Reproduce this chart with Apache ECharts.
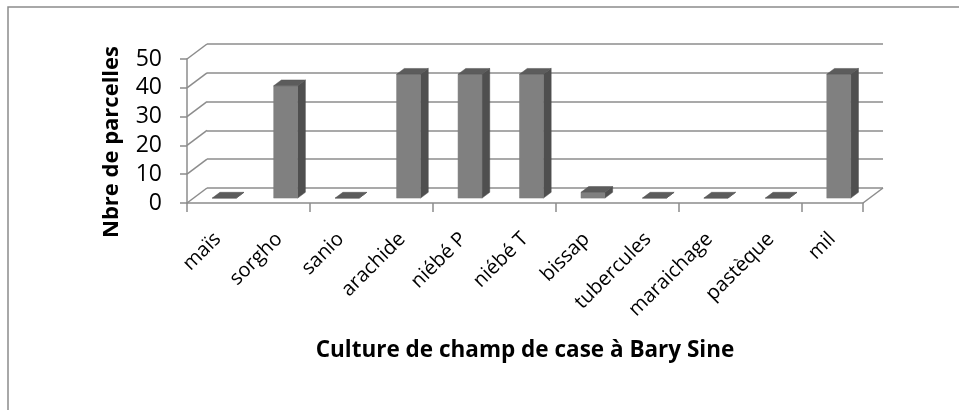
<!DOCTYPE html>
<html>
<head>
<meta charset="utf-8">
<script src="https://cdn.jsdelivr.net/npm/echarts@6/dist/echarts.min.js"></script>
<style>
html,body{margin:0;padding:0;background:#fff;}
#c{width:959px;height:410px;}
</style>
</head>
<body>
<div id="c"></div>
<script>
const categories = ['maïs','sorgho','sanio','arachide','niébé P','niébé T','bissap','tubercules','maraichage','pastèque','mil'];
const values = [0, 39, 0, 43, 43, 43, 2, 0, 0, 0, 43];
const yTicks = [0, 10, 20, 30, 40, 50];
const yTitle = 'Nbre de parcelles';
const xTitle = 'Culture de champ de case à Bary Sine';

const FONT = 'Open Sans';
const GRID_COLOR = '#8c8c8c';
const WALL_DX = 20, WALL_DY = 15;      // depth of the 3D floor/wall
const BAR_OX = 6.5, BAR_OY = 4.9;      // bar front-face offset into the depth
const BAR_DX = 7.7, BAR_DY = 5.8;      // bar depth
const LABEL_GAP = 33;                  // distance of category label anchor below the axis
const GRID = {left: 187, top: 59, width: 676, height: 144};

const chart = echarts.init(document.getElementById('c'), null, {renderer: 'canvas'});

const option = {
  animation: false,
  backgroundColor: '#fff',
  graphic: [{
    type: 'rect', silent: true, z: -10,
    shape: {x: 8, y: 7, width: 1200, height: 800},
    style: {fill: 'none', stroke: GRID_COLOR, lineWidth: 1.5}
  }],
  grid: [
    {left: GRID.left, top: GRID.top, width: GRID.width, height: GRID.height},
    {left: GRID.left + WALL_DX, top: GRID.top - WALL_DY, width: GRID.width, height: GRID.height}
  ],
  xAxis: [
    {
      type: 'category', gridIndex: 0, data: categories,
      axisLine: {show: true, lineStyle: {color: GRID_COLOR, width: 1.5}},
      axisTick: {show: true, length: 9, alignWithLabel: false, lineStyle: {color: GRID_COLOR, width: 1.5}},
      axisLabel: {show: false},
      name: xTitle, nameLocation: 'middle', nameGap: 136,
      nameTextStyle: {fontFamily: FONT, fontWeight: 'bold', fontSize: 22.5, color: '#000'}
    },
    {
      type: 'category', gridIndex: 1, data: categories, show: false
    }
  ],
  yAxis: [
    {
      type: 'value', gridIndex: 0, min: 0, max: 50, interval: 10,
      axisLine: {show: true, lineStyle: {color: GRID_COLOR, width: 1.5}},
      axisTick: {show: true, length: 7, lineStyle: {color: GRID_COLOR, width: 1.5}},
      axisLabel: {margin: 25, color: '#000', fontFamily: FONT, fontSize: 23},
      splitLine: {show: false},
      name: yTitle, nameLocation: 'middle', nameGap: 64, nameRotate: 90,
      nameTextStyle: {fontFamily: FONT, fontWeight: 'bold', fontSize: 22, color: '#000', padding: [0, 22, 0, 0]}
    },
    {
      type: 'value', gridIndex: 1, min: 0, max: 50, interval: 10,
      axisLine: {show: false}, axisTick: {show: false}, axisLabel: {show: false},
      splitLine: {show: true, lineStyle: {color: GRID_COLOR, width: 1.5}}
    }
  ],
  series: [
    {
      // slanted connectors from the front axis to the back wall, plus the floor's right edge
      type: 'custom', xAxisIndex: 0, yAxisIndex: 0, silent: true, z: 1,
      data: yTicks.map(v => [v]),
      renderItem: function (params, api) {
        const cs = params.coordSys;
        const v = api.value(0);
        const p = api.coord([0, v]);
        const children = [{
          type: 'line',
          shape: {x1: cs.x, y1: p[1], x2: cs.x + WALL_DX, y2: p[1] - WALL_DY},
          style: {stroke: GRID_COLOR, lineWidth: 1.5}
        }];
        if (v === yTicks[0]) {
          children.push({
            type: 'line',
            shape: {x1: cs.x + cs.width, y1: p[1], x2: cs.x + cs.width + WALL_DX, y2: p[1] - WALL_DY},
            style: {stroke: GRID_COLOR, lineWidth: 1.5}
          });
        }
        return {type: 'group', children: children};
      }
    },
    {
      // rotated category labels (real text), anchored at each category centre
      type: 'custom', xAxisIndex: 0, yAxisIndex: 0, silent: true, z: 3, clip: false,
      data: categories.map((c, i) => [i]),
      renderItem: function (params, api) {
        const i = api.value(0);
        const p = api.coord([i, 0]);
        return {
          type: 'text',
          x: p[0], y: p[1] + LABEL_GAP,
          rotation: Math.PI / 4,
          style: {
            text: categories[i], fill: '#000',
            font: '20px "' + FONT + '"',
            align: 'right', verticalAlign: 'middle',
            textAlign: 'right', textVerticalAlign: 'middle'
          }
        };
      }
    },
    {
      // 3D-looking bars
      type: 'custom', xAxisIndex: 0, yAxisIndex: 0, z: 5,
      data: values.map((v, i) => [i, v]),
      renderItem: function (params, api) {
        const i = api.value(0), v = api.value(1);
        const base = api.coord([i, 0]);
        const top = api.coord([i, v]);
        const bw = api.size([1, 0])[0] * 0.39;
        const x0 = base[0] - bw / 2 + BAR_OX, x1 = x0 + bw;
        const yb = base[1] - BAR_OY, yt = top[1] - BAR_OY;
        return {
          type: 'group',
          children: [
            {type: 'polygon', shape: {points: [[x1, yt], [x1 + BAR_DX, yt - BAR_DY], [x1 + BAR_DX, yb - BAR_DY], [x1, yb]]},
             style: {fill: '#4f4f4f', stroke: '#4a4a4a', lineWidth: 0.5}},
            {type: 'rect', shape: {x: x0, y: yt, width: bw, height: yb - yt},
             style: {fill: '#808080', stroke: '#7a7a7a', lineWidth: 0.5}},
            {type: 'polygon', shape: {points: [[x0, yt], [x1, yt], [x1 + BAR_DX, yt - BAR_DY], [x0 + BAR_DX, yt - BAR_DY]]},
             style: {fill: '#5c5c5c', stroke: '#555', lineWidth: 0.5}}
          ]
        };
      }
    }
  ]
};
chart.setOption(option);
</script>
</body>
</html>
